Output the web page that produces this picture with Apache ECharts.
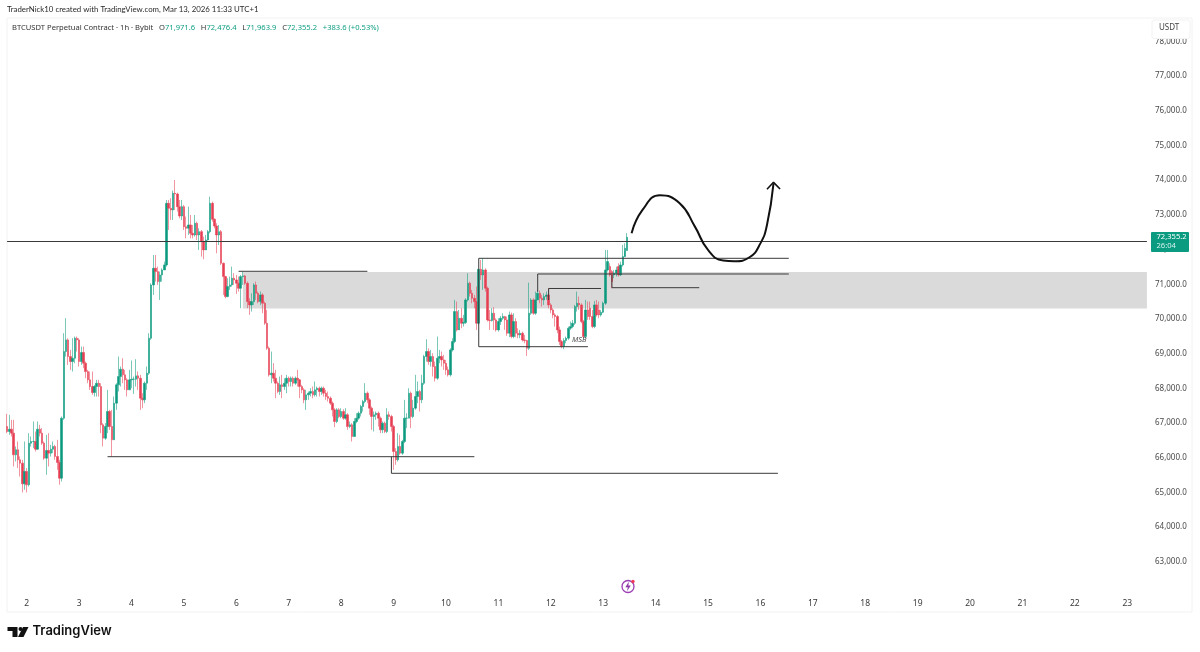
<!DOCTYPE html>
<html><head><meta charset="utf-8">
<style>html,body{margin:0;padding:0;background:#fff}#c{width:1200px;height:652px}</style>
<script src="https://cdn.jsdelivr.net/npm/echarts@6/dist/echarts.min.js"></script>
</head><body><div id="c"></div>
<script>
const closes=[66758,66825,66710,66086,66230,65942,65846,65251,65606,65222,66422,66470,66470,66249,66825,66710,66422,65990,66211,66134,66249,66326,66038,65865,65414,67142,69062,69398,68918,68774,68870,69446,69398,68774,69033,68726,68486,68246,68054,67881,68054,68150,68054,66950,66566,66902,67334,66902,66518,67574,68102,68342,68553,68390,68246,67958,68246,68265,68265,68361,68294,67718,67670,68150,68438,69446,70982,71462,71366,71078,71270,71414,71558,73334,73190,73142,73622,73603,73238,72969,73238,72662,72614,72710,72470,72422,72758,72422,72518,72230,71990,72278,72518,73334,72873,72681,72422,72518,71606,71222,70646,70934,70982,71174,71126,71030,70886,71222,71241,71030,70502,70406,70502,70982,70742,70502,70694,70454,69878,69158,68390,68438,68294,68150,67910,68102,68054,68150,68294,68198,68294,68150,68294,68246,68054,67958,67670,67814,67862,67910,67814,67958,68006,67910,68006,67862,67766,67718,67574,67382,67046,67382,67190,67334,67142,67238,66902,66950,66614,67046,67142,67286,67478,67622,67862,67670,67430,67190,67238,67286,67142,66806,66998,66758,67238,67190,66902,66182,65942,66326,66134,66470,67142,67142,67862,67190,67430,67766,67910,67670,68150,68918,69062,68774,68918,68630,68294,68870,68918,68822,68726,68534,68390,69110,69350,70214,69686,70022,69878,69897,70550,71030,70742,70598,70502,69878,71433,71270,71414,70886,69974,69955,70166,69974,69686,69926,70022,70070,69974,69590,70118,69494,69926,69590,69542,69590,69398,69379,69158,70166,70550,70166,70550,70742,70598,70550,70646,70694,70406,70262,70118,70070,69686,69350,69206,69379,69446,69734,69782,69878,70358,70454,70406,69926,69494,70262,70070,70070,69782,70406,70118,70118,70195,70454,71414,71654,71270,71078,71318,71414,71270,71558,71798,72038,72355];
const opens=[66902,66758,66825,66710,66086,66230,65942,65846,65251,65606,65222,66422,66470,66470,66249,66825,66710,66422,65990,66211,66134,66249,66326,66038,65865,65414,67142,69062,69398,68918,68774,68870,69446,69398,68774,69033,68726,68486,68246,68054,67881,68054,68150,68054,66950,66566,66902,67334,66902,66518,67574,68102,68342,68553,68390,68246,67958,68246,68265,68265,68361,68294,67718,67670,68150,68438,69446,70982,71462,71366,71078,71270,71414,71558,73334,73190,73142,73622,73603,73238,72969,73238,72662,72614,72710,72470,72422,72758,72422,72518,72230,71990,72278,72518,73334,72873,72681,72422,72518,71606,71222,70646,70934,70982,71174,71126,71030,70886,71222,71241,71030,70502,70406,70502,70982,70742,70502,70694,70454,69878,69158,68390,68438,68294,68150,67910,68102,68054,68150,68294,68198,68294,68150,68294,68246,68054,67958,67670,67814,67862,67910,67814,67958,68006,67910,68006,67862,67766,67718,67574,67382,67046,67382,67190,67334,67142,67238,66902,66950,66614,67046,67142,67286,67478,67622,67862,67670,67430,67190,67238,67286,67142,66806,66998,66758,67238,67190,66902,66182,65942,66326,66134,66470,67142,67142,67862,67190,67430,67766,67910,67670,68150,68918,69062,68774,68918,68630,68294,68870,68918,68822,68726,68534,68390,69110,69350,70214,69686,70022,69878,69897,70550,71030,70742,70598,70502,69878,71433,71270,71414,70886,69974,69955,70166,69974,69686,69926,70022,70070,69974,69590,70118,69494,69926,69590,69542,69590,69398,69379,69158,70166,70550,70166,70550,70742,70598,70550,70646,70694,70406,70262,70118,70070,69686,69350,69206,69379,69446,69734,69782,69878,70358,70454,70406,69926,69494,70262,70310,70070,69782,70406,70262,70118,70195,70454,71414,71510,71366,71270,71318,71510,71270,71558,71798,71972];
const highs=[67267,67238,67094,67094,66326,66470,66038,65942,66470,65702,66710,66614,67046,66758,67046,66950,66854,66470,66662,66710,66374,66470,66374,66518,65942,67190,69590,70022,69446,69110,69446,69494,69494,69446,69206,69206,68774,68534,68486,68486,68102,68246,68246,68150,66998,66998,67958,67382,67382,67766,68150,68918,68630,68870,68534,68294,68534,68803,68342,68841,68486,68390,67862,68198,68630,69590,71030,71846,71846,71510,71366,71462,71654,73430,73430,73478,73699,74006,73641,73430,73430,73286,72950,73238,72998,72710,72998,72806,72614,72566,72374,72422,72566,73526,73382,72902,72758,72710,72566,71625,71241,71174,71222,71510,71318,71270,71222,71270,71366,71270,71078,70598,70742,71030,71078,70790,70790,70742,70502,70262,69206,69062,68726,68534,68198,68342,68390,68294,68390,68342,68342,68342,68342,68534,68265,68102,68006,67958,67910,68006,68054,68198,68054,68054,68054,68054,67958,67910,67766,67622,67430,67430,67430,67430,67401,67430,67286,67046,66998,67142,67286,67334,67526,67670,68150,67910,67718,67478,67334,67334,67334,67190,67046,67046,67430,67334,67238,66950,66278,66710,66662,66518,67670,67286,68006,67910,67670,68390,68198,67958,68390,68966,69417,69158,69110,69014,68774,69494,69110,69062,68966,68822,68630,69158,69446,70550,70502,70262,70310,70118,70598,71318,71078,70838,70694,70934,71433,71702,71750,71462,70934,70262,70310,70339,70022,70022,70089,70166,70089,70070,70214,70185,70166,70022,69734,69686,69638,69542,69398,71049,70598,70598,70790,70838,70819,70694,70742,70790,70886,70454,70310,70166,70118,69782,69398,69446,69494,69782,69926,69974,70406,70790,70646,70454,69974,70550,70502,70502,70262,70521,70550,70502,70262,70502,71990,71990,71606,71414,71414,71510,71606,71654,72134,72182,72476];
const lows=[66710,66662,66614,65750,65894,65702,65462,65001,65078,65001,65174,66326,66278,66182,66230,66614,66374,65942,65510,65750,66038,66134,65942,65654,65222,65318,67094,68918,68678,68534,68486,68726,69062,68630,68678,68582,68294,68150,67958,67814,67766,67766,67766,66710,66326,66518,66710,66806,66038,66518,67382,67910,68054,68150,67958,67766,67958,68006,67843,68054,67958,67382,67430,67574,67958,68390,69398,70694,71078,70982,70550,71078,71414,71510,72566,72854,72854,73142,73094,72902,72854,72566,72326,72422,72326,72326,72374,72278,71990,71798,71721,71990,72259,72470,72806,72614,71894,72134,71558,70694,70598,70627,70838,70934,70982,70723,70790,70310,70982,70982,70310,70118,70214,70406,70550,70454,70406,70166,69830,69110,68342,68150,68198,67718,67862,67814,67718,67958,67862,68054,68054,68054,68102,68054,67718,67862,67574,67382,67670,67766,67718,67766,67766,67766,67814,67766,67670,67622,67526,67190,66883,66998,67142,67142,67094,67094,66806,66854,66470,66614,66998,67094,67190,67334,67574,67574,67238,66806,66758,67094,66902,66710,66710,66710,66710,67094,66758,65654,65798,65894,66086,66086,66422,66854,67142,66854,67142,67382,67574,67334,67574,68102,68774,68678,68630,68342,68198,68246,68726,68630,68534,68390,68342,68342,69062,69302,69638,69686,69734,69782,69859,70502,70646,70454,70310,69686,69830,71126,70838,70790,69926,69686,69926,69686,69638,69638,69830,69974,69686,69513,69475,69446,69446,69475,69446,69446,69350,69302,68937,69110,70118,70118,70118,70598,70454,70358,70406,70550,70310,70166,70022,69782,69590,69254,69158,69129,69302,69398,69686,69734,69830,70214,70262,69878,69446,69446,69974,69974,69734,69734,70070,70022,70070,70166,70406,71366,71222,70886,71174,71222,71222,71241,71510,71942,71964];

// Drawn lines, as [candle index, price] points
const levelLines=[
 [[0,72233],[522,72233]],
 [[106,71375],[165,71375]],
 [[46,66032],[214,66032]],
 [[176,66032],[176,65553],[353,65553]],
 [[358,71749],[216,71749],[216,69202],[266,69202]],
 [[358,71297],[243,71297],[243,70787]],
 [[248,70548],[248,70879],[272,70879]],
 [[277,71268],[277,70902],[317,70902]]
];
const zone=[108,522,71354,70303];
const pathCurve=[[286,72470],[291,73142],[299,73564],[308,73334],[315,72662],[321,71990],[328,71683],[333,71664],[340,71780],[345,72180],[348,72710],[351,73910]];
const pathArrow=[[348,73737],[351,73939],[354,73747]];
const msbPoint=[262,69395];

const hoursOnAxis=523, firstDay=1, firstHour=15;
const categories=[];
for(let i=0;i<hoursOnAxis;i++){const t=firstHour+i;categories.push(t%24===0?String(firstDay+t/24):'');}

const candleData=closes.map((c,i)=>[opens[i],c,lows[i],highs[i]]);
const FONT='"Noto Sans", sans-serif';
const lineStyleDark={color:'#3a3a3a',width:1};
const lineSeries=levelLines.map(d=>({type:'line',data:d,showSymbol:false,symbol:'none',silent:true,z:3,lineStyle:lineStyleDark}));

const chart=echarts.init(document.getElementById('c'),null,{renderer:'canvas'});
const teal='#0b9a7e';
chart.setOption({
 animation:false,backgroundColor:'#fff',
 grid:{left:6,width:1142,top:41.4,height:555.2},
 xAxis:{type:'category',data:categories,boundaryGap:true,axisLine:{show:false},axisTick:{show:false},splitLine:{show:false},
   axisLabel:{interval:(i,v)=>v!=='',margin:2,fontSize:8.5,color:'#3a3a3a',fontFamily:FONT,hideOverlap:false}},
 yAxis:{type:'value',position:'right',min:62000,max:78000,interval:1000,axisLine:{show:false},axisTick:{show:false},splitLine:{show:false},
   axisLabel:{margin:7,fontSize:8,color:'#4a4a4a',fontFamily:FONT,padding:[2,0,0,0],
     formatter:v=>v===62000?'':(v/1000).toFixed(0)+',000.0'}},
 series:[
  {type:'line',data:[],silent:true,z:1,markArea:{silent:true,itemStyle:{color:'#dadada'},
     data:[[{coord:[zone[0],zone[2]]},{coord:[zone[1],zone[3]]}]]}},
  {type:'candlestick',data:candleData,barWidth:2,z:2,silent:true,
     itemStyle:{color:teal,color0:'#e63e52',borderColor:'rgba(11,154,126,.55)',borderColor0:'rgba(230,62,82,.55)',borderWidth:1}},
  ...lineSeries,
  {type:'line',data:pathCurve,smooth:0.5,showSymbol:false,symbol:'none',silent:true,z:4,lineStyle:{color:'#111',width:2}},
  {type:'line',data:pathArrow,showSymbol:false,symbol:'none',silent:true,z:4,lineStyle:{color:'#111',width:1.6}},
  {type:'scatter',data:[msbPoint],symbolSize:0,silent:true,z:4,
     label:{show:true,position:'inside',formatter:'MSB',fontSize:7.5,fontStyle:'italic',color:'#222',fontFamily:FONT}}
 ],
 graphic:[
  {type:'rect',silent:true,z:0,shape:{x:7,y:18,width:1185,height:594},style:{fill:'none',stroke:'#f2f2f2',lineWidth:1}},
  {type:'text',silent:true,x:7,y:5,style:{text:'TraderNick10 created with TradingView.com, Mar 13, 2026 11:33 UTC+1',font:'7.85px Lato, sans-serif',fill:'#2a2a2a'}},
  {type:'text',silent:true,x:12,y:22,style:{
     text:'{d|BTCUSDT Perpetual Contract · 1h · Bybit} \u2009{d|O}{g|71,971.6} \u2009{d|H}{g|72,476.4} \u2009{d|L}{g|71,963.9} \u2009{d|C}{g|72,355.2} \u2009{g|+383.6 (+0.53%)}',
     rich:{d:{fontSize:7.6,fontFamily:FONT,fill:'#333',color:'#333'},g:{fontSize:7.6,fontFamily:FONT,fill:'#12a085',color:'#12a085'}}}},
  {type:'rect',silent:true,z:10,shape:{x:1152,y:20,width:38,height:18.5,r:2},style:{fill:'#fff',stroke:'#f2f2f2',lineWidth:1}},
  {type:'text',silent:true,z:11,x:1159,y:24,style:{text:'USDT',font:'8px '+FONT,fill:'#444'}},
  {type:'rect',silent:true,z:10,shape:{x:1151,y:232,width:38,height:20,r:1},style:{fill:'#0b9b80'}},
  {type:'text',silent:true,z:11,x:1156.5,y:232.5,style:{text:'72,355.2',font:'7.6px '+FONT,fill:'#fff'}},
  {type:'text',silent:true,z:11,x:1156.5,y:242,style:{text:'26:04',font:'7.6px '+FONT,fill:'#d5f2ec'}},
  {type:'circle',silent:true,z:11,shape:{cx:628,cy:586.5,r:6},style:{fill:'#fff',stroke:'#9c3fb5',lineWidth:1.3}},
  {type:'polygon',silent:true,z:12,shape:{points:[[629,581.5],[625.3,587.3],[627.8,587.3],[627,591.3],[630.8,585.5],[628.3,585.5]]},style:{fill:'#8e3aa8'}},
  {type:'circle',silent:true,z:13,shape:{cx:633,cy:581.5,r:1.7},style:{fill:'#ef3b57'}},
  {type:'polygon',silent:true,shape:{points:[[7.5,627],[17.5,627],[17.5,637],[12.5,637],[12.5,631],[7.5,631]]},style:{fill:'#111'}},
  {type:'circle',silent:true,shape:{cx:20.5,cy:629,r:2},style:{fill:'#111'}},
  {type:'polygon',silent:true,shape:{points:[[23,627],[28.5,627],[23.5,637],[18,637]]},style:{fill:'#111'}},
  {type:'text',silent:true,x:32.5,y:625,style:{text:'TradingView',font:'600 13px Inter, sans-serif',fill:'#111'}}
 ]
});
</script></body></html>
